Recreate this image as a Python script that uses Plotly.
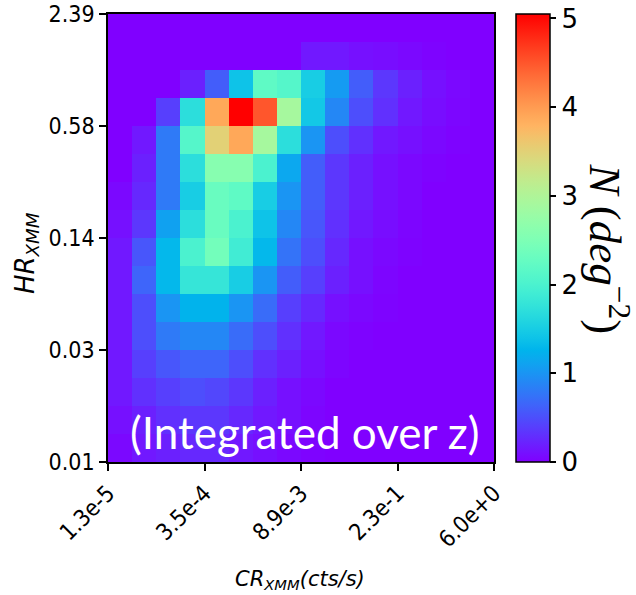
import math
import plotly.graph_objects as go

# ---- data (rows listed top -> bottom, 16 columns left -> right) ----
x_tick_labels = ["1.3e-5", "3.5e-4", "8.9e-3", "2.3e-1", "6.0e+0"]
y_tick_labels = ["0.01", "0.03", "0.14", "0.58", "2.39"]
cbar_ticks = [0, 1, 2, 3, 4, 5]

row00 = [0, 0, 0, 0, 0, 0, 0, 0, 0, 0, 0, 0, 0, 0, 0, 0]
row01 = [0, 0, 0, 0, 0, 0, 0, 0, 0.15, 0.15, 0.1, 0.08, 0.05, 0.02, 0, 0]
row02 = [0, 0, 0, 0.2, 0.6, 1.4, 2.2, 2.1, 1.5, 1.05, 0.6, 0.35, 0.2, 0.1, 0.05, 0]
row03 = [0, 0, 0.4, 1.7, 3.9, 5.05, 4.5, 2.9, 1.45, 0.9, 0.5, 0.3, 0.15, 0.08, 0.04, 0]
row04 = [0, 0.15, 0.8, 2.1, 3.5, 3.9, 2.9, 1.7, 1.0, 0.5, 0.3, 0.15, 0.1, 0.05, 0.02, 0]
row05 = [0, 0.2, 0.8, 1.7, 2.6, 2.6, 2.0, 1.15, 0.6, 0.35, 0.2, 0.1, 0.05, 0.02, 0, 0]
row06 = [0.05, 0.25, 0.8, 1.5, 2.3, 2.2, 1.5, 1.0, 0.6, 0.35, 0.2, 0.1, 0.05, 0, 0, 0]
row07 = [0.1, 0.35, 1.1, 1.7, 2.3, 2.0, 1.4, 0.9, 0.55, 0.3, 0.15, 0.08, 0.03, 0, 0, 0]
row08 = [0.15, 0.55, 1.3, 2.0, 2.4, 1.9, 1.3, 0.75, 0.5, 0.25, 0.1, 0.05, 0.02, 0, 0, 0]
row09 = [0.15, 0.65, 1.3, 1.8, 1.8, 1.5, 1.0, 0.6, 0.4, 0.2, 0.1, 0.03, 0, 0, 0, 0]
row10 = [0.15, 0.5, 1.0, 1.25, 1.25, 1.0, 0.7, 0.4, 0.25, 0.1, 0.05, 0.02, 0, 0, 0, 0]
row11 = [0.15, 0.5, 0.8, 0.9, 0.9, 0.7, 0.5, 0.3, 0.15, 0.05, 0.02, 0, 0, 0, 0, 0]
row12 = [0.15, 0.4, 0.55, 0.65, 0.65, 0.5, 0.3, 0.2, 0.1, 0.03, 0, 0, 0, 0, 0, 0]
row13 = [0.15, 0.3, 0.4, 0.5, 0.45, 0.35, 0.2, 0.1, 0.05, 0, 0, 0, 0, 0, 0, 0]
row14 = [0.1, 0.2, 0.3, 0.35, 0.35, 0.25, 0.15, 0.1, 0.03, 0, 0, 0, 0, 0, 0, 0]
row15 = [0.05, 0.15, 0.2, 0.25, 0.25, 0.15, 0.1, 0.05, 0.02, 0, 0, 0, 0, 0, 0, 0]

rows_top_down = [row00, row01, row02, row03, row04, row05, row06, row07,
                 row08, row09, row10, row11, row12, row13, row14, row15]
z = rows_top_down[::-1]  # bottom -> top for plotting
ncols = len(row00)
nrows = len(rows_top_down)


# matplotlib "rainbow" colormap as a plotly colorscale
def rainbow(t):
    r = min(1.0, abs(2 * t - 0.5))
    g = math.sin(math.pi * t)
    b = math.cos(math.pi * t / 2)
    return "rgb(%d,%d,%d)" % (round(r * 255), round(g * 255), round(b * 255))


colorscale = [[i / 40, rainbow(i / 40)] for i in range(41)]

tick_font = dict(family="DejaVu Sans Condensed, DejaVu Sans", size=23, color="black")

fig = go.Figure()
fig.add_trace(go.Heatmap(
    z=z,
    x=list(range(ncols)),
    y=list(range(nrows)),
    colorscale=colorscale,
    zmin=0, zmax=5.05,
    colorbar=dict(
        x=1.057, xanchor="left", xpad=0,
        y=0.5, yanchor="middle", ypad=0,
        len=1.0, lenmode="fraction",
        thickness=34, thicknessmode="pixels",
        outlinewidth=1.5, outlinecolor="black",
        tickvals=cbar_ticks,
        ticks="outside", ticklen=6, tickcolor="black", tickwidth=1.5,
        tickfont=dict(family="DejaVu Sans", size=26, color="black"),
    ),
))

fig.update_xaxes(
    range=[-0.5, ncols - 0.5],
    tickvals=[-0.5, 3.5, 7.5, 11.5, 15.5],
    ticktext=x_tick_labels,
    tickangle=-45,
    tickfont=tick_font,
    ticks="outside", ticklen=7, tickwidth=1.5, tickcolor="black",
    showline=True, linecolor="black", linewidth=1.5, mirror=True,
    showgrid=False, zeroline=False, automargin=False,
)
fig.update_yaxes(
    range=[-0.5, nrows - 0.5],
    tickvals=[-0.5, 3.5, 7.5, 11.5, 15.5],
    ticktext=y_tick_labels,
    tickfont=tick_font,
    ticks="outside", ticklen=7, tickwidth=1.5, tickcolor="black",
    showline=True, linecolor="black", linewidth=1.5, mirror=True,
    showgrid=False, zeroline=False, automargin=False,
)

annotations = [
    dict(text="(Integrated over z)", x=0.508, y=0.068, xref="paper", yref="paper",
         showarrow=False, font=dict(family="Lato", size=44, color="white"),
         xanchor="center", yanchor="middle"),
    dict(text="<i>CR</i><sub><i>XMM</i></sub><i>(cts/s)</i>", x=0.497, y=-0.263,
         xref="paper", yref="paper", showarrow=False,
         font=dict(family="DejaVu Sans", size=21, color="black"),
         xanchor="center", yanchor="middle"),
    dict(text="<i>HR</i><sub><i>XMM</i></sub>", x=-0.213, y=0.466,
         xref="paper", yref="paper", showarrow=False, textangle=-90,
         font=dict(family="DejaVu Sans", size=26, color="black"),
         xanchor="center", yanchor="middle"),
    dict(text="<i>N</i> (<i>deg</i><sup>−2</sup>)", x=1.297, y=0.475,
         xref="paper", yref="paper", showarrow=False, textangle=90,
         font=dict(family="Liberation Serif", size=45, color="black"),
         xanchor="center", yanchor="middle"),
]

fig.update_layout(
    width=636, height=595,
    margin=dict(l=108, r=142, t=14, b=133, autoexpand=False),
    paper_bgcolor="white", plot_bgcolor="white",
    annotations=annotations,
    showlegend=False,
)

fig.write_html("out.html")
